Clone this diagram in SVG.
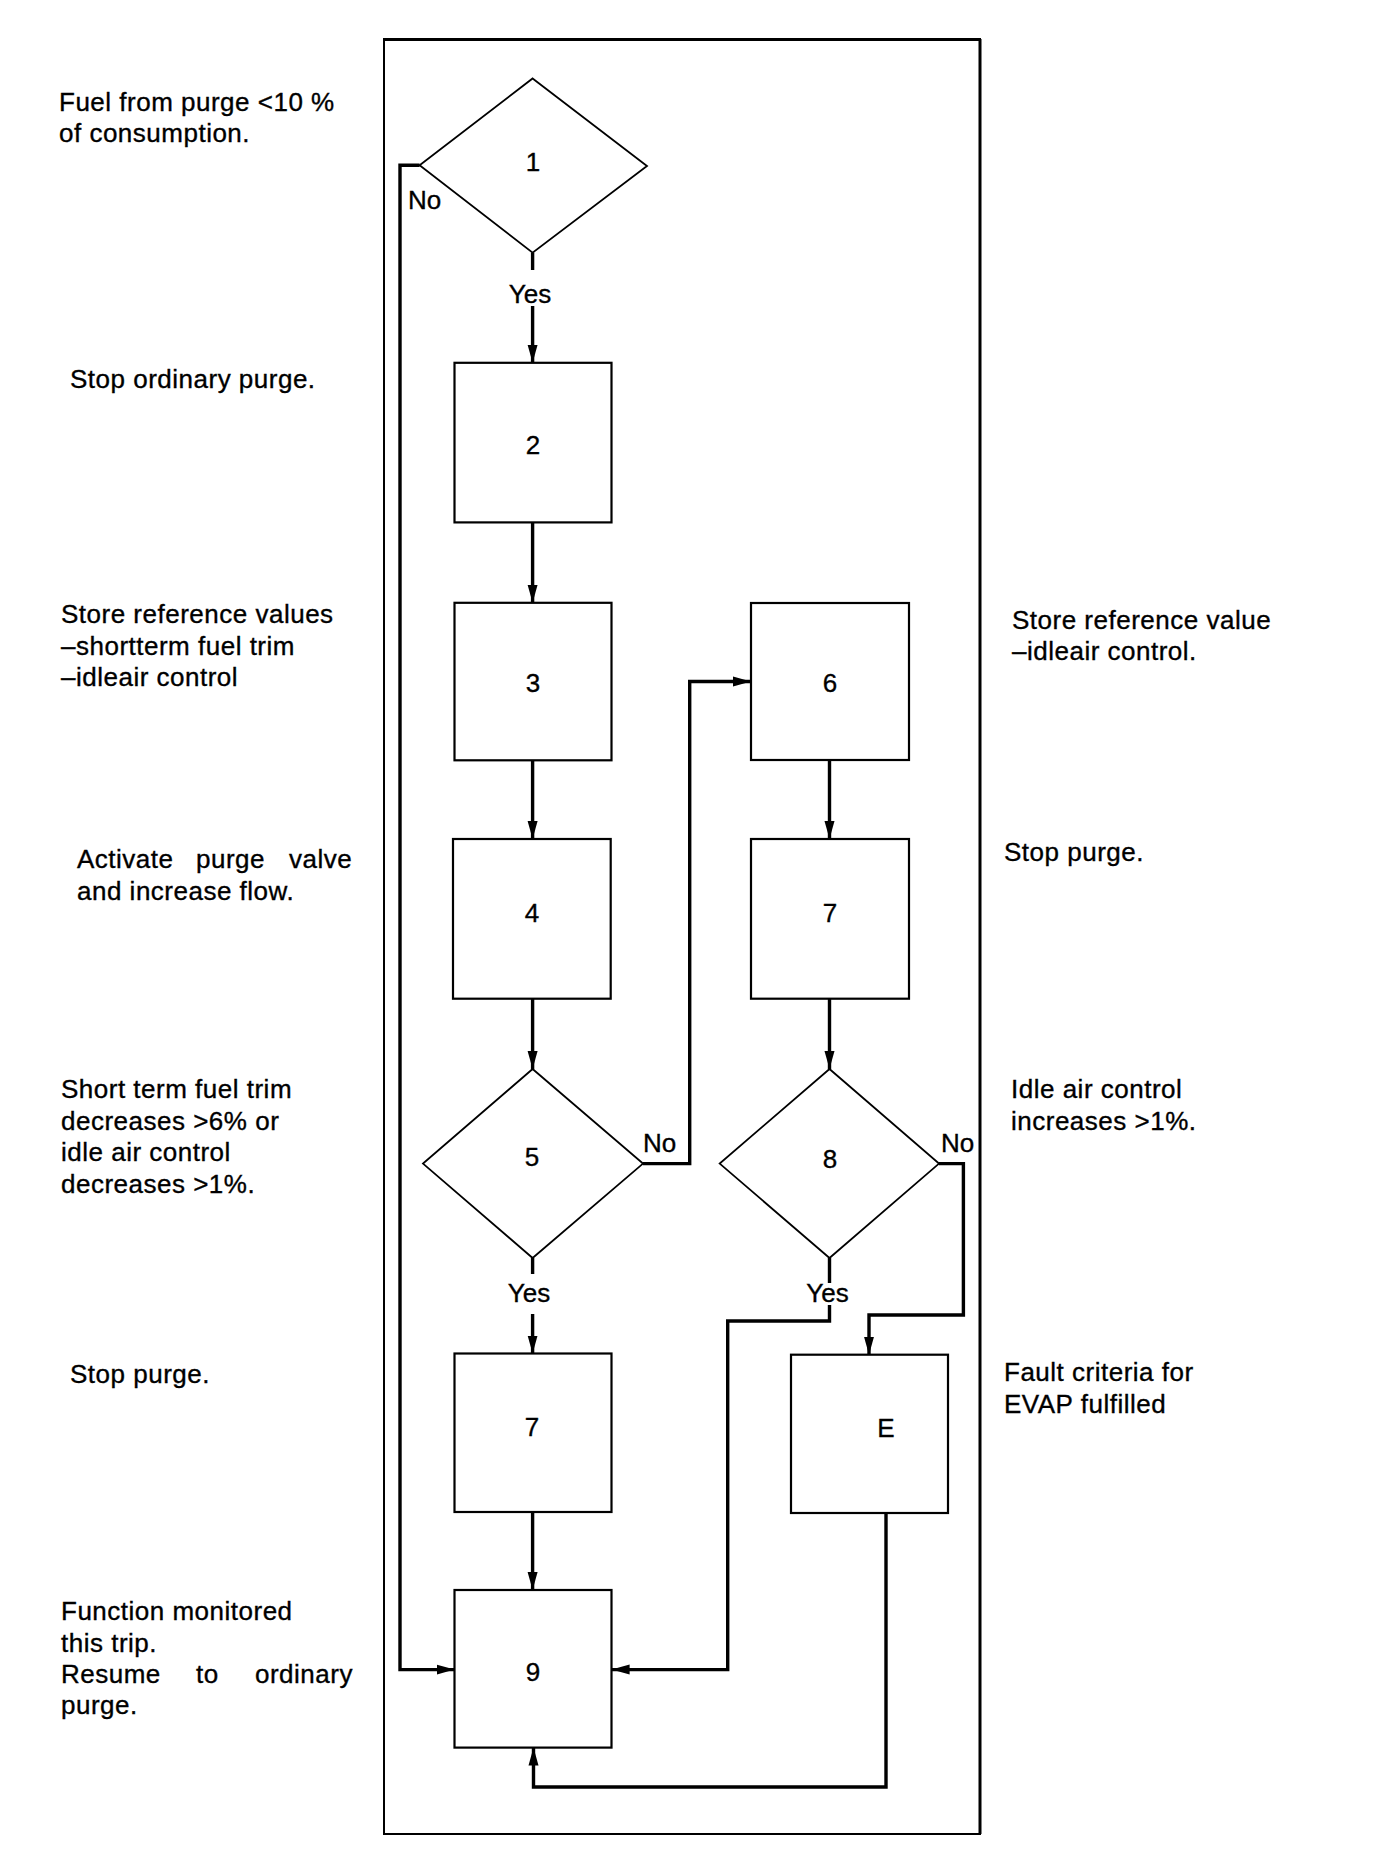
<svg xmlns="http://www.w3.org/2000/svg" width="1392" height="1874" viewBox="0 0 1392 1874">
<defs>
<marker id="arr" markerUnits="userSpaceOnUse" markerWidth="20" markerHeight="12" refX="18" refY="6" orient="auto">
<path d="M0,1 L18,6 L0,11 Z" fill="#000"/>
</marker>
</defs>
<style>
text{font-family:"Liberation Sans",Arial,Helvetica,sans-serif;font-size:26px;fill:#000;stroke:#000;stroke-width:0.35;letter-spacing:0.5px}
.lbl{text-anchor:middle;letter-spacing:0}
.box{fill:#fff;stroke:#000;stroke-width:2.2}
.dia{fill:#fff;stroke:#000;stroke-width:1.8}
.con{fill:none;stroke:#000;stroke-width:3.4}
</style>
<rect width="1392" height="1874" fill="#fff"/>
<g id="frame">
<rect x="384" y="39" width="596" height="1795" fill="none" stroke="#000" stroke-width="2"/>
<line x1="383" y1="39.5" x2="981" y2="39.5" stroke="#000" stroke-width="3.2"/>
<line x1="980" y1="39" x2="980" y2="1834" stroke="#000" stroke-width="3"/>
</g>
<g id="connectors">
<line class="con" x1="532.6" y1="252.6" x2="532.6" y2="270"/>
<line class="con" x1="532.6" y1="306" x2="532.6" y2="362.8" marker-end="url(#arr)"/>
<line class="con" x1="532.6" y1="522.4" x2="532.6" y2="602.8" marker-end="url(#arr)"/>
<line class="con" x1="532.6" y1="760.3" x2="532.6" y2="839" marker-end="url(#arr)"/>
<line class="con" x1="532.6" y1="998.7" x2="532.6" y2="1069" marker-end="url(#arr)"/>
<polyline class="con" points="643,1163.6 689.7,1163.6 689.7,681.5 751,681.5" marker-end="url(#arr)"/>
<line class="con" x1="532.6" y1="1258" x2="532.6" y2="1274"/>
<line class="con" x1="532.6" y1="1314" x2="532.6" y2="1353.5" marker-end="url(#arr)"/>
<line class="con" x1="532.6" y1="1512" x2="532.6" y2="1590" marker-end="url(#arr)"/>
<line class="con" x1="829.5" y1="760.3" x2="829.5" y2="839" marker-end="url(#arr)"/>
<line class="con" x1="829.5" y1="998.7" x2="829.5" y2="1069" marker-end="url(#arr)"/>
<line class="con" x1="829.5" y1="1258" x2="829.5" y2="1283"/>
<polyline class="con" points="829.5,1305 829.5,1321 727.7,1321 727.7,1669.6 611.6,1669.6" marker-end="url(#arr)"/>
<polyline class="con" points="939,1163.6 963.4,1163.6 963.4,1315 869,1315 869,1354.7" marker-end="url(#arr)"/>
<polyline class="con" points="886,1513 886,1787 533.5,1787 533.5,1747.6" marker-end="url(#arr)"/>
<polyline class="con" points="419.6,165.3 400,165.3 400,1669.6 454.5,1669.6" marker-end="url(#arr)"/>
<text x="408" y="209" style="letter-spacing:0">No</text>
<text class="lbl" x="530" y="303">Yes</text>
<text x="643" y="1152" style="letter-spacing:0">No</text>
<text class="lbl" x="529" y="1302">Yes</text>
<text x="941" y="1152" style="letter-spacing:0">No</text>
<text class="lbl" x="827.5" y="1302">Yes</text>
</g>
<g id="n1"><polygon class="dia" points="532.6,78.5 647,166 532.6,252.6 419.6,165.3"/><text class="lbl" x="533" y="171">1</text></g>
<g id="n2"><rect class="box" x="454.5" y="362.8" width="157" height="159.6"/><text class="lbl" x="533" y="454">2</text></g>
<g id="n3"><rect class="box" x="454.5" y="602.8" width="157" height="157.5"/><text class="lbl" x="533" y="692">3</text></g>
<g id="n4"><rect class="box" x="453" y="839" width="157.7" height="159.7"/><text class="lbl" x="532" y="922">4</text></g>
<g id="n5"><polygon class="dia" points="532.6,1069 643,1163.6 532.6,1258 423,1163.6"/><text class="lbl" x="532" y="1166">5</text></g>
<g id="n6"><rect class="box" x="751" y="603" width="158" height="157"/><text class="lbl" x="830" y="692">6</text></g>
<g id="n7b"><rect class="box" x="751" y="839" width="158" height="159.7"/><text class="lbl" x="830" y="922">7</text></g>
<g id="n8"><polygon class="dia" points="829.5,1069 939,1163.6 829.5,1258 719.7,1163.6"/><text class="lbl" x="830" y="1168">8</text></g>
<g id="n7a"><rect class="box" x="454.5" y="1353.5" width="157" height="158.5"/><text class="lbl" x="532" y="1436">7</text></g>
<g id="nE"><rect class="box" x="791" y="1354.7" width="157" height="158.3"/><text class="lbl" x="886" y="1437">E</text></g>
<g id="n9"><rect class="box" x="454.5" y="1590" width="157" height="157.6"/><text class="lbl" x="533" y="1681">9</text></g>
<g id="notes">
<text x="59" y="111">Fuel from purge &lt;10 %</text>
<text x="59" y="142">of consumption.</text>
<text x="70" y="388">Stop ordinary purge.</text>
<text x="61" y="623">Store reference values</text>
<text x="61" y="655">–shortterm fuel trim</text>
<text x="61" y="686">–idleair control</text>
<text y="868"><tspan x="77">Activate</tspan><tspan x="196">purge</tspan><tspan x="289">valve</tspan></text>
<text x="77" y="900">and increase flow.</text>
<text x="61" y="1098">Short term fuel trim</text>
<text x="61" y="1130">decreases &gt;6% or</text>
<text x="61" y="1161">idle air control</text>
<text x="61" y="1193">decreases &gt;1%.</text>
<text x="70" y="1383">Stop purge.</text>
<text x="61" y="1620">Function monitored</text>
<text x="61" y="1652">this trip.</text>
<text y="1683"><tspan x="61">Resume</tspan><tspan x="196">to</tspan><tspan x="255">ordinary</tspan></text>
<text x="61" y="1714">purge.</text>
<text x="1012" y="629">Store reference value</text>
<text x="1012" y="660">–idleair control.</text>
<text x="1004" y="861">Stop purge.</text>
<text x="1011" y="1098">Idle air control</text>
<text x="1011" y="1130">increases &gt;1%.</text>
<text x="1004" y="1381">Fault criteria for</text>
<text x="1004" y="1413">EVAP fulfilled</text>
</g>
</svg>
